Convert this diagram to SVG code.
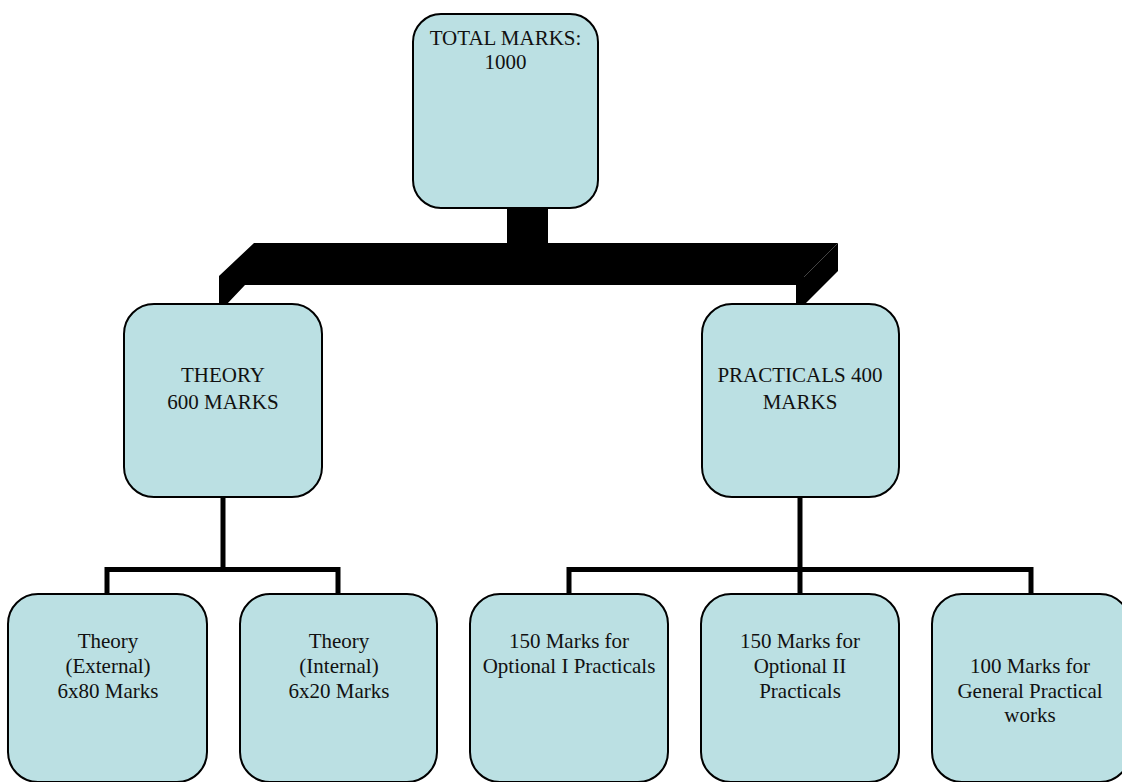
<svg xmlns="http://www.w3.org/2000/svg" width="1122" height="782" viewBox="0 0 1122 782">
<style>
.box{fill:#BBE0E3;stroke:#000;stroke-width:2}
.t{font-family:"Liberation Serif","Times New Roman",serif;font-size:21px;fill:#111;text-anchor:middle}
.ln{fill:none;stroke:#000;stroke-width:5;stroke-linejoin:miter}
</style>
<rect width="1122" height="782" fill="#fff"/>
<g id="connectors">
<rect x="507" y="207" width="41" height="37" fill="#000"/>
<polygon points="254,243 838,243 838,271 805,304 796,304 796,285 245,285 227,304 219,304 219,276" fill="#000"/>
<line x1="838" y1="243" x2="804" y2="277" stroke="#444" stroke-width="1"/>
<line x1="223" y1="497" x2="223" y2="570" class="ln"/>
<path d="M107,594 V569.5 H338 V594" class="ln"/>
<line x1="800" y1="497" x2="800" y2="594" class="ln"/>
<path d="M569,594 V569.5 H1031 V594" class="ln"/>
</g>
<g id="total">
<rect class="box" x="413" y="14" width="185" height="194" rx="28"/>
<text class="t" x="505.5" y="45">TOTAL MARKS:</text>
<text class="t" x="505.5" y="69">1000</text>
</g>
<g id="theory">
<rect class="box" x="124" y="304" width="198" height="193" rx="30"/>
<text class="t" x="223" y="382">THEORY</text>
<text class="t" x="223" y="409">600 MARKS</text>
</g>
<g id="practicals">
<rect class="box" x="702" y="304" width="197" height="193" rx="30"/>
<text class="t" x="800" y="382">PRACTICALS 400</text>
<text class="t" x="800" y="409">MARKS</text>
</g>
<g id="theory-external">
<rect class="box" x="8" y="594" width="199" height="188" rx="30"/>
<text class="t" x="108" y="648">Theory</text>
<text class="t" x="108" y="673">(External)</text>
<text class="t" x="108" y="698">6x80 Marks</text>
</g>
<g id="theory-internal">
<rect class="box" x="240" y="594" width="197" height="188" rx="30"/>
<text class="t" x="339" y="648">Theory</text>
<text class="t" x="339" y="673">(Internal)</text>
<text class="t" x="339" y="698">6x20 Marks</text>
</g>
<g id="optional-1">
<rect class="box" x="470" y="594" width="198" height="188" rx="30"/>
<text class="t" x="569" y="648">150 Marks for</text>
<text class="t" x="569" y="673">Optional I Practicals</text>
</g>
<g id="optional-2">
<rect class="box" x="701" y="594" width="198" height="188" rx="30"/>
<text class="t" x="800" y="648">150 Marks for</text>
<text class="t" x="800" y="673">Optional II</text>
<text class="t" x="800" y="698">Practicals</text>
</g>
<g id="general">
<rect class="box" x="932" y="594" width="198" height="188" rx="30"/>
<text class="t" x="1030" y="673">100 Marks for</text>
<text class="t" x="1030" y="698">General Practical</text>
<text class="t" x="1030" y="722">works</text>
</g>
</svg>
